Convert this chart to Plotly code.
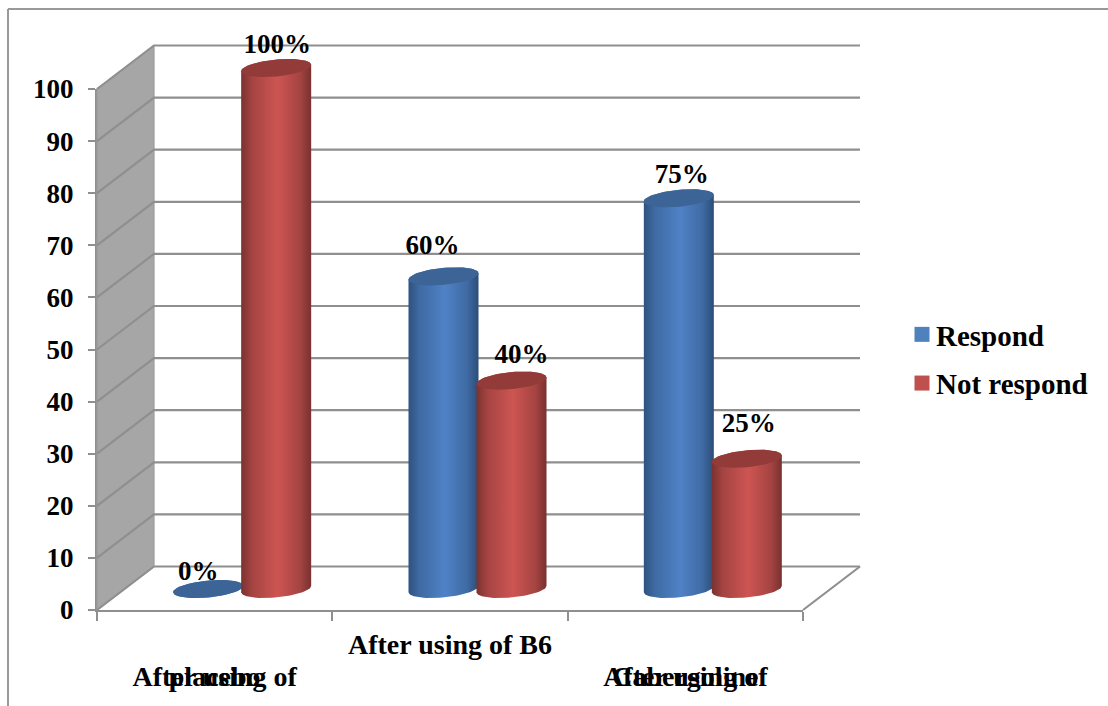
import numpy as np
import plotly.graph_objects as go

categories = ["After using of<br>placebo", "After using of B6", "After using of<br>Cabergoline"]
respond = [0, 60, 75]
not_respond = [100, 40, 25]
y_ticks = list(range(0, 101, 10))

W, H = 1108, 706
L, R, T, B = 97, 803, 89, 610       # plot box in page pixels
PX_X = (R - L) / 3
PX_Y = (B - T) / 100
FONT = "Liberation Serif"
GRID = "#8f8f8f"

DEPTH_X, DEPTH_Y = 57 / PX_X, 43.5 / PX_Y     # back wall offset
CYL_DX, CYL_DY = 27.5 / PX_X, 21 / PX_Y       # cylinder base offset
HALF_GAP = 34 / PX_X
RAD_PX, ELL_PX, TILT = 35, 8.5, 0.09

BLUE_SCALE = [[0, "#2f527f"], [0.16, "#3f6aa3"], [0.52, "#4f82c6"], [0.84, "#3f6aa3"], [1, "#2c4d78"]]
RED_SCALE = [[0, "#7a3230"], [0.16, "#a54442"], [0.52, "#cd5552"], [0.84, "#a54442"], [1, "#783130"]]
BLUE_TOP, RED_TOP = "#3c6496", "#933b39"

LEGEND_MARK = {"Respond": "#4f81bd", "Not respond": "#c0504d"}
# label nudges from the cylinder top, in pixels (dx, dy upward)
NUDGE_R = [(-10, 16), (-11, 29), (3, 22)]
NUDGE_N = [(1, 22), (10, 24), (2, 34)]

OVER = dict(xaxis="x2", yaxis="y2", cliponaxis=False, showlegend=False, hoverinfo="skip")


def ellipse(cx, cy, t):
    px_ = RAD_PX * np.cos(t)
    py_ = TILT * px_ + ELL_PX * np.sin(t)
    return cx + px_ / PX_X, cy + py_ / PX_Y


def cylinder(fig, cx, value, scale, top):
    yb = CYL_DY
    yt = value + CYL_DY
    # lower half of base (left to right), then upper half of top (right to left)
    xl, yl = ellipse(cx, yb, np.linspace(np.pi, 2 * np.pi, 40))
    xu, yu = ellipse(cx, yt, np.linspace(0, np.pi, 40))
    fig.add_trace(go.Scatter(
        x=np.r_[xl, xu], y=np.r_[yl, yu], mode="lines", line=dict(width=0),
        fill="toself", fillgradient=dict(type="horizontal", colorscale=scale), **OVER))
    xe, ye = ellipse(cx, yt, np.linspace(0, 2 * np.pi, 90))
    fig.add_trace(go.Scatter(
        x=xe, y=ye, mode="lines", line=dict(width=0), fill="toself", fillcolor=top, **OVER))


fig = go.Figure()


def seg(xs, ys, color=GRID, width=2.2):
    fig.add_trace(go.Scatter(x=xs, y=ys, mode="lines", line=dict(color=color, width=width), **OVER))


# trace that keeps the real axes on the base subplot
fig.add_trace(go.Scatter(x=[0, 3], y=[0, 100], mode="none", showlegend=False, hoverinfo="skip"))

# left wall
fig.add_trace(go.Scatter(
    x=[0, DEPTH_X, DEPTH_X, 0, 0], y=[0, DEPTH_Y, 100 + DEPTH_Y, 100, 0], mode="lines",
    line=dict(color="#9c9c9c", width=1.2), fill="toself", fillcolor="#a6a6a6", **OVER))

# gridlines: wall diagonals and back wall
for v in y_ticks:
    seg([0, DEPTH_X, 3 + DEPTH_X], [v, v + DEPTH_Y, v + DEPTH_Y])
# floor edge
seg([3, 3 + DEPTH_X], [0, DEPTH_Y])

centers = [i + 0.5 + CYL_DX for i in range(3)]
x_resp = [c - HALF_GAP for c in centers]
x_not = [c + HALF_GAP for c in centers]

for cx, v in zip(x_resp, respond):
    cylinder(fig, cx, v, BLUE_SCALE, BLUE_TOP)
for cx, v in zip(x_not, not_respond):
    cylinder(fig, cx, v, RED_SCALE, RED_TOP)

# data labels
for xs, vals, nudges in ((x_resp, respond, NUDGE_R), (x_not, not_respond, NUDGE_N)):
    fig.add_trace(go.Scatter(
        x=[x + n[0] / PX_X for x, n in zip(xs, nudges)],
        y=[v + CYL_DY + n[1] / PX_Y for v, n in zip(vals, nudges)],
        text=[f"{v}%" for v in vals], mode="text", textposition="middle center",
        textfont=dict(family=FONT, size=27, color="black", weight=700), **OVER))

# legend entries
for name, col in LEGEND_MARK.items():
    fig.add_trace(go.Scatter(x=[None], y=[None], mode="markers", name=name, legendgroup=name,
                             marker=dict(symbol="square", size=15, color=col, line=dict(width=0))))


def px(x):
    return x / W


def py(y):
    return 1 - y / H


fig.update_layout(
    width=W, height=H, autosize=False,
    margin=dict(l=0, r=0, t=0, b=0, pad=0),
    paper_bgcolor="white", plot_bgcolor="rgba(0,0,0,0)",
    font=dict(family=FONT, size=26, color="black", weight=700),
    legend=dict(x=px(896), y=py(309), xanchor="left", yanchor="top", traceorder="grouped",
                tracegroupgap=8, bgcolor="rgba(0,0,0,0)",
                font=dict(family=FONT, size=29, color="black", weight=700)),
    xaxis=dict(domain=[px(L), px(R)], range=[0, 3], showgrid=False, zeroline=False, showline=True,
               linecolor=GRID, linewidth=2, automargin=False, fixedrange=True,
               tickmode="array", tickvals=[0.5, 1.5, 2.5], ticktext=categories, ticks="",
               ticklabelstandoff=8,
               minor=dict(tickmode="array", tickvals=[0, 1, 2, 3], ticks="outside", ticklen=9,
                          tickwidth=2, tickcolor=GRID, showgrid=False),
               tickfont=dict(family=FONT, size=28, color="black", weight=700)),
    yaxis=dict(domain=[py(B), py(T)], range=[0, 100], showgrid=False, zeroline=False, showline=True,
               linecolor=GRID, linewidth=2, automargin=False, fixedrange=True,
               tickmode="array", tickvals=y_ticks, ticks="outside", ticklen=7, tickwidth=2, tickcolor=GRID,
               ticklabelstandoff=9,
               tickfont=dict(family=FONT, size=27, color="black", weight=700)),
    xaxis2=dict(domain=[0, 1], range=[-L / PX_X, (W - L) / PX_X], visible=False, anchor="y2", fixedrange=True),
    yaxis2=dict(domain=[0, 1], range=[(B - H) / PX_Y, B / PX_Y], visible=False, anchor="x2", fixedrange=True),
    shapes=[
        dict(type="line", xref="paper", yref="paper", x0=px(8), x1=px(W), y0=py(9), y1=py(9),
             line=dict(color="#999999", width=2)),
        dict(type="line", xref="paper", yref="paper", x0=px(8), x1=px(8), y0=py(9), y1=py(H),
             line=dict(color="#999999", width=2)),
    ],
)

fig.write_html(
    "out.html",
    config={"displayModeBar": False},
    post_script="document.body.style.margin='0';"
                "document.querySelectorAll('.legendsymbols').forEach(function(e){e.setAttribute('transform','translate(6,0)');});"
                "document.querySelectorAll('.xtick text tspan.line').forEach(function(e){if(e.getAttribute('dy')){e.setAttribute('dy','32px');}});",
)
